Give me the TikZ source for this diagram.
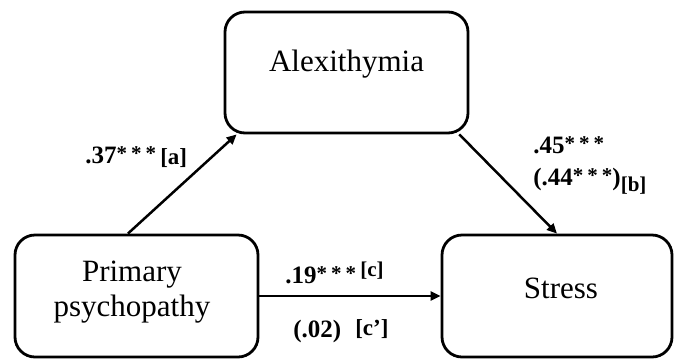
\documentclass[tikz,border=0pt]{standalone}
\usepackage{fontspec}
\setmainfont{Liberation Serif}
\usetikzlibrary{arrows.meta,calc}
\newcommand\mystars{\raisebox{1.4pt}{\fontsize{10.5}{10}\selectfont*\kern2pt*\kern2pt*}}
\begin{document}
\begin{tikzpicture}[x=0.5pt,y=-0.5pt,
  box/.style={draw,line width=1.4pt,rounded corners=10pt,inner sep=0pt},
  nodetext/.style={font=\fontsize{15.5}{17.5}\selectfont,inner sep=0pt,align=center},
  arr/.style={line width=1.25pt,-{Triangle[length=5pt,width=4.5pt]}},
  lab/.style={font=\fontsize{12.5}{14}\selectfont\bfseries,inner sep=0pt,anchor=base west}
]
\useasboundingbox (0,0) rectangle (674,360);
\node[box,minimum width=121.5pt,minimum height=60.5pt] (alex) at (346.5,72.5) {};
\node[nodetext] (alexT) at (346.5,64) {Alexithymia};
\node[box,minimum width=121.5pt,minimum height=61pt] (psy) at (136.5,296) {};
\node[nodetext] (psyT) at (132,292) {Primary\\psychopathy};
\node[box,minimum width=115pt,minimum height=61pt] (stress) at (557,296) {};
\node[nodetext] (stressT) at (561,288) {Stress};
\draw[arr] ($(psy.north west)!0.465!(psy.north east)$) -- ($(alex.south west)!0.053!(alex.south east)$);
\draw[arr] ($(alex.south west)!0.959!(alex.south east)$) -- (stress.north);
\draw[arr] (psy.east) -- (stress.west);
\node[lab] (la) at (85,163) {.37\mystars\,\raisebox{-0.5pt}{\fontsize{11.5}{12}\selectfont[a]}};
\node[lab] (lb1) at (533,153) {.45\mystars};
\node[lab] (lb2) at (533,185) {(.44\mystars)\raisebox{-3pt}{\fontsize{10.5}{12}\selectfont[b]}};
\node[lab] (lc) at (285,283) {.19\mystars\,\raisebox{3.5pt}{\fontsize{10.5}{12}\selectfont[c]}};
\node[lab] (lc2) at (293,337) {(.02)\hspace{7pt}\raisebox{1pt}{\fontsize{11.5}{12}\selectfont[c']}};
\end{tikzpicture}
\end{document}
